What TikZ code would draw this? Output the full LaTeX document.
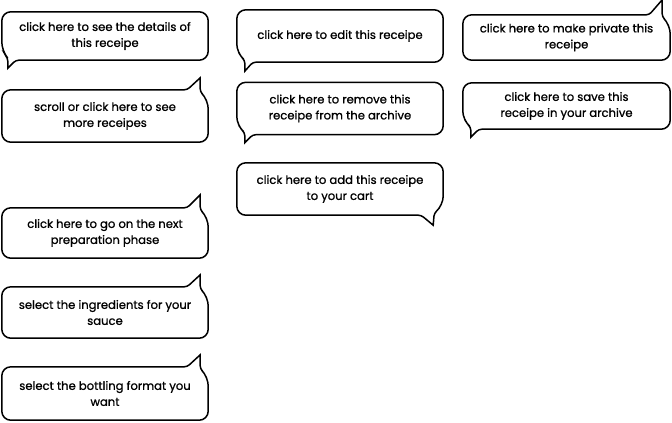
\documentclass[tikz,border=0pt]{standalone}
\usepackage{fontspec}
\setmainfont{Poppins}[FakeBold=1]
\usetikzlibrary{calc}

\begin{document}
\begin{tikzpicture}
      [
        x=1pt, y=-1pt,
        bubble/.style = {minimum width=206pt, minimum height=50pt, inner sep=0pt,
                         align=center, font=\fontsize{11.6}{16}\selectfont},
        outline/.style = {draw, line width=1.5pt, rounded corners=9pt}
      ]

      \useasboundingbox (0,0) rectangle (672,423);

      % left column
      \node[bubble, minimum height=48pt] (details) at (105,36) {click here to see the details of\\this receipe};
      \node[bubble, minimum height=52pt] (scroll) at (105,116) {scroll or click here to see\\more receipes};
      \node[bubble] (nextphase) at (105,233) {click here to go on the next\\preparation phase};
      \node[bubble, minimum height=51pt] (ingredients) at (105,312.5) {select the ingredients for your\\sauce};
      \node[bubble, minimum height=53pt] (bottling) at (105,393.5) {select the bottling format you\\want};

      % middle column
      \node[bubble, minimum height=52pt] (edit) at (340,36) {click here to edit this receipe};
      \node[bubble, minimum height=52pt] (remove) at (340,108.5) {click here to remove this\\receipe from the archive};
      \node[bubble, minimum height=52pt] (cart) at (340,189) {click here to add this receipe\\to your cart};

      % right column
      \node[bubble, minimum width=207pt, minimum height=45pt] (private) at (566.5,37.5) {click here to make private this\\receipe};
      \node[bubble, minimum width=207pt, minimum height=46pt] (save) at (566.5,106) {click here to save this\\receipe in your archive};

      % outlines with tail at bottom left
      \foreach \n/\dx/\dy in {details/6/8, edit/8/9, remove/8/8, save/8/8} {
        \draw[outline] (\n.south) -- (\n.south east) -- (\n.north east) -- (\n.north west)
          -- ($(\n.south west)+(0,-9)$) [rounded corners=3pt] -- ($(\n.south west)+(\dx,-2)$)
          [sharp corners] -- ($(\n.south west)+(\dx,\dy)$) [rounded corners=3pt]
          -- ($(\n.south west)+(\dx+8,0)$) -- cycle;
      }

      % outlines with tail at top right
      \foreach \n/\dy in {scroll/12, nextphase/13, ingredients/12, bottling/12, private/15} {
        \draw[outline] (\n.north) -- (\n.north west) -- (\n.south west) -- (\n.south east)
          -- ($(\n.north east)+(0,10)$) [rounded corners=3pt] -- ($(\n.north east)+(-8,2)$)
          [sharp corners] -- ($(\n.north east)+(-8,-\dy)$) [rounded corners=3pt]
          -- ($(\n.north east)+(-21,0)$) -- cycle;
      }

      % outline with tail at bottom right
      \draw[outline] (cart.south) -- (cart.south west) -- (cart.north west) -- (cart.north east)
        -- ($(cart.south east)+(0,-10)$) [rounded corners=3pt] -- ($(cart.south east)+(-9,-2)$)
        [sharp corners] -- ($(cart.south east)+(-10,10)$) [rounded corners=3pt]
        -- ($(cart.south east)+(-22,0)$) -- cycle;

    \end{tikzpicture}
\end{document}
